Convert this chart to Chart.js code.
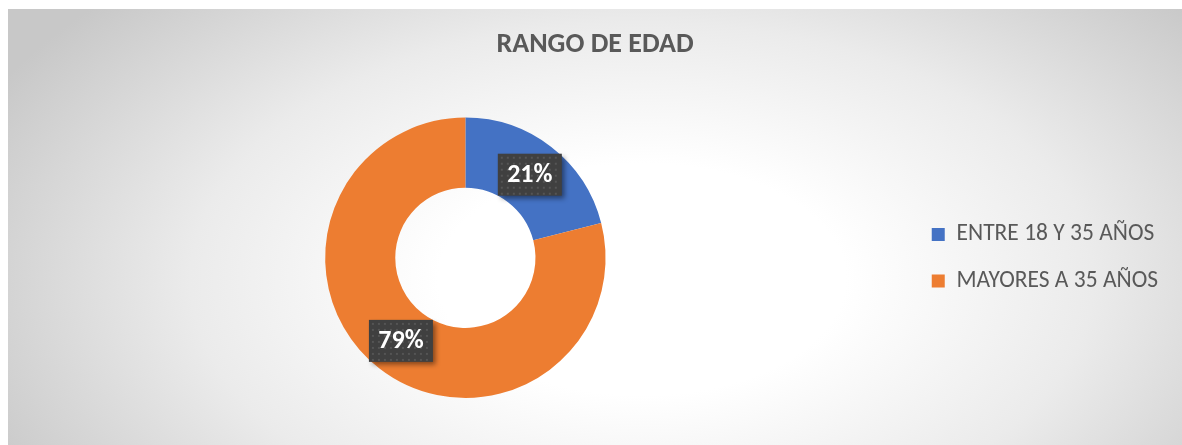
<!DOCTYPE html>
<html>
<head>
<meta charset="utf-8">
<script src="https://cdn.jsdelivr.net/npm/chart.js@4.4.0/dist/chart.umd.min.js"></script>
<style>
  html, body { margin: 0; padding: 0; background: #ffffff; }
  #box {
    position: absolute; left: 8px; top: 9px; width: 1174px; height: 436px;
    background: radial-gradient(ellipse 62% 95% at 54% 62%, #ffffff 0%, #ffffff 28%, #ebebeb 62%, #c8c8c8 100%);
  }
  canvas { display: block; }
</style>
</head>
<body>
<div id="box"><canvas id="c" width="1174" height="436"></canvas></div>
<script>
const categories = ["ENTRE 18 Y 35 AÑOS", "MAYORES A 35 AÑOS"];
const values = [21, 79];
const percentLabels = ["21%", "79%"];
const colors = ["#4472C4", "#ED7D31"];
const titleText = "RANGO DE EDAD";

const FONT = "Carlito, 'Open Sans', sans-serif";

const labelBoxes = {
  id: 'labelBoxes',
  afterDatasetsDraw(chart) {
    const ctx = chart.ctx;
    const meta = chart.getDatasetMeta(0);
    meta.data.forEach((arc, i) => {
      const p = arc.tooltipPosition();
      const w = 64, h = 42;
      const x = p.x - w / 2, y = p.y - h / 2;
      ctx.save();
      ctx.shadowColor = 'rgba(0,0,0,0.45)';
      ctx.shadowBlur = 5;
      ctx.shadowOffsetX = 3;
      ctx.shadowOffsetY = 3;
      ctx.fillStyle = '#404040';
      ctx.fillRect(x, y, w, h);
      ctx.restore();
      ctx.save();
      ctx.fillStyle = '#555555';
      for (let yy = y + 3; yy < y + h - 1; yy += 6) {
        for (let xx = x + 3; xx < x + w - 1; xx += 6) {
          ctx.fillRect(xx, yy, 2, 2);
        }
      }
      ctx.fillStyle = '#ffffff';
      ctx.font = "bold 26px " + FONT;
      ctx.textAlign = 'center';
      ctx.textBaseline = 'middle';
      ctx.fillText(percentLabels[i], p.x, p.y + 1);
      ctx.restore();
    });
  }
};

new Chart(document.getElementById('c'), {
  type: 'doughnut',
  data: {
    labels: categories,
    datasets: [{
      data: values,
      backgroundColor: colors,
      borderWidth: 0,
      hoverOffset: 0
    }]
  },
  options: {
    responsive: false,
    animation: false,
    cutout: '50%',
    layout: { padding: { top: 0, bottom: 47, left: 14, right: 14 } },
    plugins: {
      title: {
        display: true,
        text: titleText,
        color: '#595959',
        font: { family: FONT, size: 28, weight: 'bold', lineHeight: 1.2 },
        padding: { top: 19, bottom: 56 }
      },
      legend: {
        position: 'right',
        fullSize: false,
        labels: {
          color: '#595959',
          font: { family: FONT, size: 23.5 },
          boxWidth: 13,
          boxHeight: 13,
          padding: 23
        }
      },
      tooltip: { enabled: false }
    }
  },
  plugins: [labelBoxes]
});
</script>
</body>
</html>
